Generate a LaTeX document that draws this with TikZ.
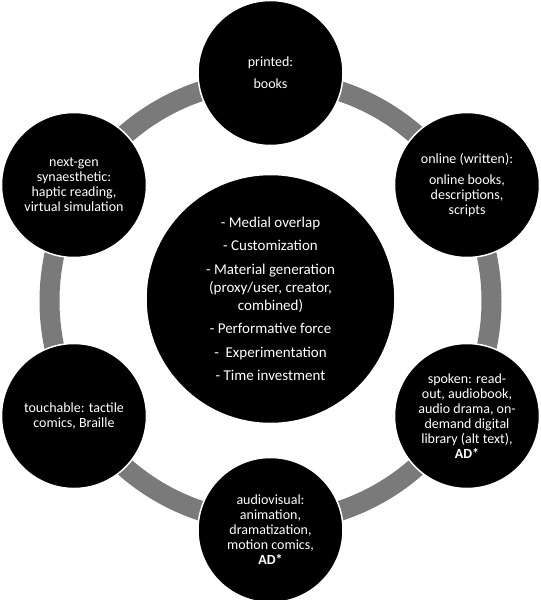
\documentclass[tikz,border=0pt]{standalone}
\usepackage{fontspec}
\setmainfont{Carlito}
\begin{document}
\begin{tikzpicture}[x=1pt,y=-1pt,
  outer/.style={circle,fill=black,draw=white,line width=1.5pt,minimum size=145pt,inner sep=0pt,
    text=white,align=center,font=\fontsize{14}{15}\selectfont},
  hub/.style={circle,fill=black,draw=white,line width=1.5pt,minimum size=249pt,inner sep=0pt,
    text=white,align=center,font=\fontsize{15}{18}\selectfont},
  ringstyle/.style={draw=black!52,line width=20pt}]
\useasboundingbox (0,0) rectangle (541,600);
\coordinate (c) at (270.5,301);
\draw[ringstyle] (c) circle[radius=221pt];
\node[hub] (center) at (270.5,299) {- Medial overlap\\[5.5pt]
- Customization\\[5.5pt]
- Material generation\\
(proxy/user, creator,\\
combined)\\[5.5pt]
- Performative force\\[5.5pt]
-\ \ Experimentation\\[5.5pt]
- Time investment};
\node[outer] (printed) at (270.5,73) {printed:\\[7pt] books};
\node[outer] (online) at (467,185) {online (written):\\[6pt] online books,\\ descriptions,\\ scripts};
\node[outer] (spoken) at (467,416) {spoken: read-\\ out, audiobook,\\ audio drama, on-\\ demand digital\\ library (alt text),\\ \textbf{AD*}};
\node[outer] (av) at (270.5,530) {audiovisual:\\ animation,\\ dramatization,\\ motion comics,\\ \textbf{AD*}};
\node[outer] (touch) at (74,416) {touchable: tactile\\ comics, Braille};
\node[outer] (nextgen) at (74,185) {next-gen\\ synaesthetic:\\ haptic reading,\\ virtual simulation};
\end{tikzpicture}
\end{document}
